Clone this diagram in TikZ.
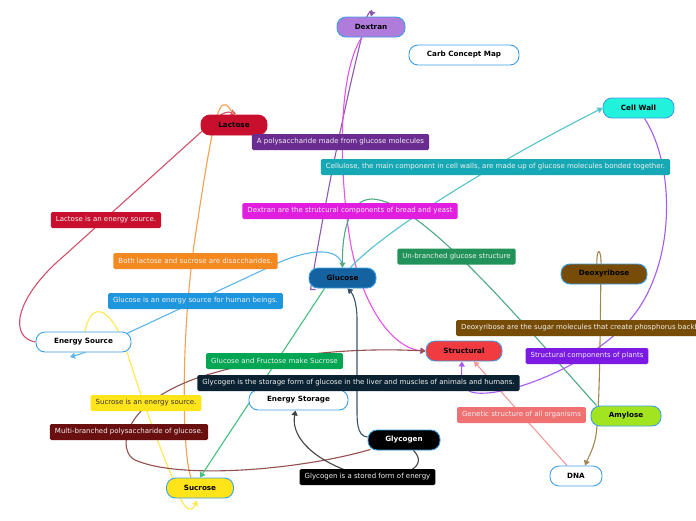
\documentclass[tikz,border=0pt]{standalone}
\usepackage{fontspec}
\setmainfont{DejaVu Sans}
\usetikzlibrary{arrows.meta,calc,backgrounds}
\definecolor{cborder}{HTML}{3AA0E6}
\definecolor{cDextran}{HTML}{B07CDC}
\definecolor{cLactose}{HTML}{C8102E}
\definecolor{cCell}{HTML}{22F2DC}
\definecolor{cGlucose}{HTML}{1462A0}
\definecolor{cDeoxy}{HTML}{764C06}
\definecolor{cStruct}{HTML}{F03C40}
\definecolor{cAmylose}{HTML}{A3E421}
\definecolor{cSucrose}{HTML}{FFE41A}
\definecolor{lPoly}{HTML}{6B2C91}
\definecolor{lCell}{HTML}{16A9B5}
\definecolor{lDex}{HTML}{E11DE0}
\definecolor{lLac}{HTML}{C8102E}
\definecolor{lUnb}{HTML}{22925B}
\definecolor{lBoth}{HTML}{F48A1F}
\definecolor{lGlu}{HTML}{1E96DE}
\definecolor{lDeo}{HTML}{764C06}
\definecolor{lStr}{HTML}{7A1AE2}
\definecolor{lGF}{HTML}{00A651}
\definecolor{lGS}{HTML}{0B2232}
\definecolor{lSuc}{HTML}{FFE41A}
\definecolor{lMulti}{HTML}{6A0F10}
\definecolor{lGen}{HTML}{F07172}
\definecolor{lText}{HTML}{F2F2F2}
\definecolor{ePurple}{HTML}{8E5AB0}
\definecolor{eMag}{HTML}{E552EA}
\definecolor{eCrim}{HTML}{D4506A}
\definecolor{eOrange}{HTML}{F5A04F}
\definecolor{eYellow}{HTML}{FFE84A}
\definecolor{eBlue}{HTML}{5AB5EA}
\definecolor{eGreen}{HTML}{4FA983}
\definecolor{eTeal}{HTML}{52C3CB}
\definecolor{eViolet}{HTML}{A55AF2}
\definecolor{eBrown}{HTML}{A48650}
\definecolor{eSalmon}{HTML}{F29A98}
\definecolor{eDRed}{HTML}{955050}
\definecolor{eSlate}{HTML}{3E5366}
\definecolor{eBlack}{HTML}{444444}
\definecolor{eGF}{HTML}{44C07E}
\begin{document}
\begin{tikzpicture}[x=1pt,y=-1pt,
  concept/.style={draw=cborder, line width=0.9pt, rounded corners=9pt, minimum height=20pt, inner sep=0pt,
    font=\fontsize{7.2}{8}\selectfont\bfseries, text=black},
  lbl/.style={rounded corners=1.5pt, minimum height=16pt, inner xsep=5pt, inner ysep=0pt,
    font=\fontsize{7}{8}\selectfont, text=lText},
  conn/.style={line width=1.1pt},
  arr/.style={-{Triangle[length=5pt,width=6pt]}}]
\useasboundingbox (0,0) rectangle (696,520);
\clip (0,0) rectangle (696,520);
% concepts
\node[concept, fill=cDextran, minimum width=68pt] (dex) at (371,27) {Dextran};
\node[concept, fill=white, minimum width=110pt] (ccm) at (464,55) {Carb Concept Map};
\node[concept, fill=cLactose, draw=cLactose, minimum width=66pt] (lac) at (234,125) {Lactose};
\node[concept, fill=cCell, minimum width=71pt] (cw) at (638.5,108) {Cell Wall};
\node[concept, fill=cGlucose, minimum width=67pt] (glu) at (342.5,278) {Glucose};
\node[concept, fill=cDeoxy, minimum width=86pt] (deo) at (604,274) {Deoxyribose};
\node[concept, fill=white, minimum width=95pt] (es) at (83.5,342) {Energy Source};
\node[concept, fill=cStruct, minimum width=76pt] (str) at (464,351) {Structural};
\node[concept, fill=white, minimum width=99pt] (est) at (298.5,400) {Energy Storage};
\node[concept, fill=black, text=white, minimum width=72pt] (gly) at (404,440) {Glycogen};
\node[concept, fill=cAmylose, minimum width=70pt] (amy) at (626,416) {Amylose};
\node[concept, fill=white, minimum width=52pt] (dna) at (576,476) {DNA};
\node[concept, fill=cSucrose, minimum width=67pt] (suc) at (200,488) {Sucrose};
% labels
\node[lbl, fill=lPoly] (l1) at (340.5,142) {A polysaccharide made from glucose molecules};
\node[lbl, fill=lCell] (l2) at (495.5,167) {Cellulose, the main component in cell walls, are made up of glucose molecules bonded together.};
\node[lbl, fill=lDex] (l3) at (350,211) {Dextran are the strutcural components of bread and yeast};
\node[lbl, fill=lLac] (l4) at (106,220) {Lactose is an energy source.};
\node[lbl, fill=lUnb] (l5) at (456.5,256.5) {Un-branched glucose structure};
\node[lbl, fill=lBoth] (l6) at (195.5,261) {Both lactose and sucrose are disaccharides.};
\node[lbl, fill=lGlu] (l7) at (195.5,301) {Glucose is an energy source for human beings.};
\node[lbl, fill=lDeo, anchor=west] (l8) at (456,328) {Deoxyribose are the sugar molecules that create phosphorus backbones};
\node[lbl, fill=lStr] (l9) at (587,356) {Structural components of plants};
\node[lbl, fill=lGF] (l10) at (274.5,361) {Glucose and Fructose make Sucrose};
\node[lbl, fill=lGS] (l11) at (358.5,383) {Glycogen is the storage form of glucose in the liver and muscles of animals and humans.};
\node[lbl, fill=lSuc, text=black!80] (l12) at (146,403) {Sucrose is an energy source.};
\node[lbl, fill=lMulti] (l13) at (129,432) {Multi-branched polysaccharide of glucose.};
\node[lbl, fill=lGen] (l14) at (521.5,415) {Genetic structure of all organisms};
\node[lbl, fill=black] (l15) at (367.5,477) {Glycogen is a stored form of energy};
\begin{pgfonlayer}{background}
\fill[white] (0,0) rectangle (696,520);
% Glucose -> Dextran
\draw[conn, ePurple, arr] ($(glu.south west)+(7,1)$) -- ($(glu.south west)+(2,1)$) .. controls (325,200) and (348,90) .. (364,28) .. controls (367,10) and (373,9) .. (dex.north);
% Dextran -> Structural
\draw[conn, eMag, arr] (dex.center) .. controls (340,50) and (336,150) .. (350,240) .. controls (360,300) and (390,348) .. (str.west);
% Energy Source -> Lactose
\draw[conn, eCrim, arr] (es.west) .. controls (10,338) and (12,300) .. (65,255) -- (200,133) .. controls (216,118) and (224,110) .. (236,114);
% Lactose - Sucrose
\draw[conn, eOrange] ($(suc.north west)+(25,0)$) .. controls (182,455) and (180,330) .. (197,225) .. controls (207,160) and (215,108) .. (223,105) .. controls (228,103) and (230,110) .. (lac.north);
% Energy Source - Sucrose
\draw[conn, eYellow, arr] (es.center) .. controls (88,295) and (112,305) .. (128,355) .. controls (145,410) and (165,460) .. (178,492) .. controls (185,512) and (192,512) .. ($(suc.south)+(-3,2)$);
% Glucose -> Energy Source
\draw[conn, eBlue, arr] (glu.north) .. controls (342,250) and (318,246) .. (280,262) -- (130,332) .. controls (108,342) and (88,352) .. (70,357);
% Amylose -> Glucose
\draw[conn, eGreen, arr] ($(amy.north west)+(6,0)$) .. controls (520,320) and (420,200) .. (372,199) .. controls (350,199) and (342,230) .. (glu.north);
% Glucose -> Cell Wall
\draw[conn, eTeal, arr] ($(glu.north)+(8,0)$) .. controls (380,235) and (480,170) .. (cw.west);
% Cell Wall -> Structural
\draw[conn, eViolet, arr] ($(cw.south)+(6,0)$) .. controls (678,170) and (676,280) .. (620,330) .. controls (580,368) and (510,396) .. (476,393) .. controls (462,392) and (461,378) .. ($(str.south)+(-2,0)$);
% Deoxyribose -> DNA
\draw[conn, eBrown, arr] (deo.center) -- (597,266) .. controls (596,246) and (602,246) .. (601,270) .. controls (600,330) and (600,420) .. (595,440) .. controls (592,452) and (588,458) .. ($(dna.north)+(9,0)$);
% DNA -> Structural
\draw[conn, eSalmon, arr] ($(dna.north)+(-9,0)$) -- ($(str.south)+(10,0)$);
% Glycogen -> Structural
\draw[conn, eDRed, arr] ($(gly.south west)+(3,-1)$) .. controls (300,470) and (180,480) .. (135,460) .. controls (118,452) and (118,405) .. (200,377) .. controls (270,355) and (350,347) .. (str.west);
% Glycogen -> Glucose
\draw[conn, eSlate, arr] ($(gly.west)+(0,-3)$) .. controls (356,436) and (357,420) .. (357,400) -- (357,320) .. controls (357,300) and (352,293) .. ($(glu.south)+(5,0)$);
% Glycogen -> Energy Storage
\draw[conn, eBlack, arr] ($(gly.south east)+(-27,0)$) .. controls (428,465) and (410,478) .. (367,477) .. controls (320,465) and (290,440) .. ($(est.south)+(-3,0)$);
% Glucose -> Sucrose
\draw[conn, eGF, arr] ($(glu.south west)+(16,0)$) -- (suc.north);
\end{pgfonlayer}
\end{tikzpicture}
\end{document}
